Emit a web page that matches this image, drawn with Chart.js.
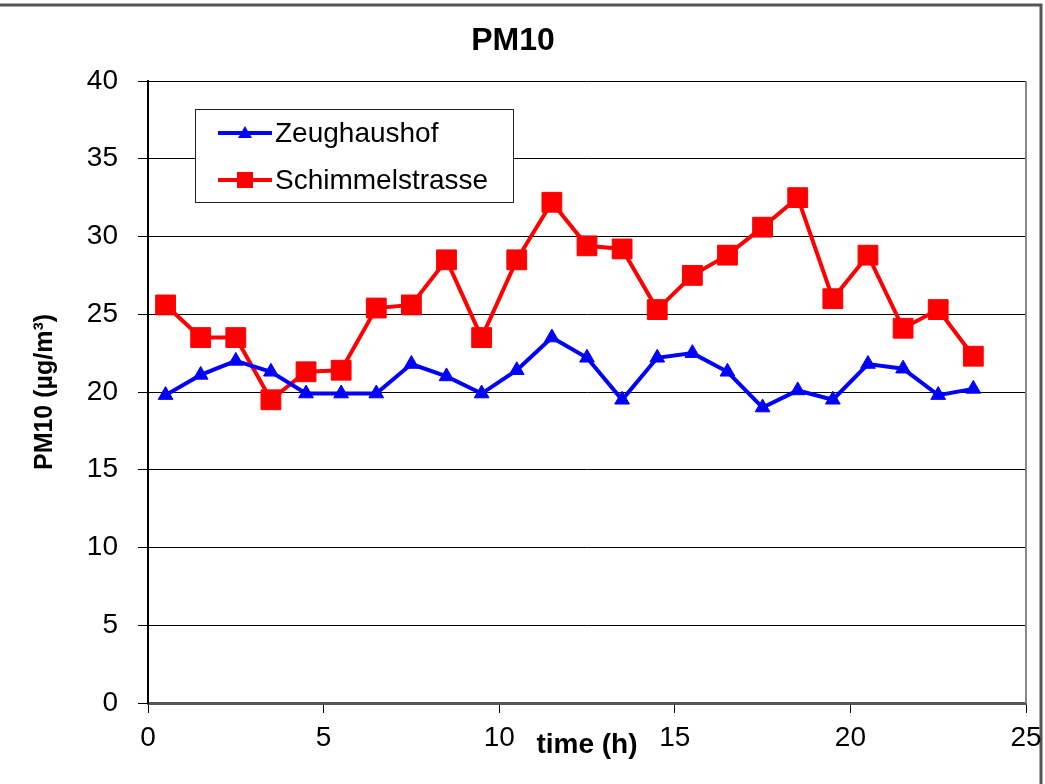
<!DOCTYPE html>
<html>
<head>
<meta charset="utf-8">
<script src="https://cdn.jsdelivr.net/npm/chart.js@4/dist/chart.umd.min.js"></script>
<style>
  body { margin: 0; background: #fff; }
</style>
</head>
<body>
<canvas id="pmChart" width="1045" height="784"></canvas>
<script>
// hour of day (middle of each hourly interval)
var hours = [0.5, 1.5, 2.5, 3.5, 4.5, 5.5, 6.5, 7.5, 8.5, 9.5, 10.5, 11.5,
             12.5, 13.5, 14.5, 15.5, 16.5, 17.5, 18.5, 19.5, 20.5, 21.5, 22.5, 23.5];
var zeughaushof = [19.8, 21.1, 22.0, 21.3, 19.9, 19.9, 19.9, 21.8, 21.0, 19.9, 21.4, 23.5,
                   22.2, 19.5, 22.2, 22.5, 21.3, 19.0, 20.1, 19.5, 21.8, 21.5, 19.8, 20.2];
var schimmelstrasse = [25.6, 23.5, 23.5, 19.5, 21.3, 21.4, 25.4, 25.6, 28.5, 23.5, 28.5, 32.2,
                       29.4, 29.2, 25.3, 27.5, 28.8, 30.6, 32.5, 26.0, 28.8, 24.1, 25.3, 22.3];
var seriesNames = ["Zeughaushof", "Schimmelstrasse"];

var FONT = "'Liberation Sans', Arial, sans-serif";

function toPoints(values) {
  return hours.map(function (h, i) { return { x: h, y: values[i] }; });
}

// frame, right plot border and legend box drawn on the canvas
var framePlugin = {
  id: 'frame',
  beforeDraw: function (chart) {
    var ctx = chart.ctx;
    ctx.save();
    ctx.fillStyle = '#fff';
    ctx.fillRect(0, 0, chart.width, chart.height);
    // outer chart frame (top and right)
    ctx.strokeStyle = '#555';
    ctx.lineWidth = 3;
    ctx.beginPath();
    ctx.moveTo(0, 5);
    ctx.lineTo(1041, 5);
    ctx.lineTo(1041, chart.height);
    ctx.stroke();
    ctx.restore();
  },
  afterDraw: function (chart) {
    var ctx = chart.ctx, a = chart.chartArea;
    ctx.save();
    // right border of the plot area
    ctx.strokeStyle = '#888';
    ctx.lineWidth = 2;
    ctx.beginPath();
    ctx.moveTo(a.right, a.top);
    ctx.lineTo(a.right, a.bottom);
    ctx.stroke();

    // legend
    ctx.fillStyle = '#fff';
    ctx.fillRect(196, 110, 317, 92);
    ctx.strokeStyle = '#222';
    ctx.lineWidth = 1;
    ctx.strokeRect(195.5, 109.5, 318, 93);
    chart.data.datasets.forEach(function (ds, i) {
      var y = 133 + i * 47;
      ctx.strokeStyle = ds.borderColor;
      ctx.lineWidth = 4;
      ctx.beginPath();
      ctx.moveTo(218, y);
      ctx.lineTo(272, y);
      ctx.stroke();
      ctx.fillStyle = ds.borderColor;
      if (ds.pointStyle === 'rect') {
        ctx.fillRect(237, y - 8, 16, 16);
      } else {
        ctx.beginPath();
        ctx.moveTo(245, y - 7);
        ctx.lineTo(252, y + 5);
        ctx.lineTo(238, y + 5);
        ctx.closePath();
        ctx.fill();
      }
      ctx.fillStyle = '#000';
      ctx.font = '28px ' + FONT;
      ctx.textBaseline = 'middle';
      ctx.textAlign = 'left';
      ctx.fillText(ds.label, 275, y + 1);
    });
    ctx.restore();
  }
};

var ctx = document.getElementById('pmChart').getContext('2d');
new Chart(ctx, {
  type: 'line',
  data: {
    datasets: [
      {
        label: seriesNames[0],
        data: toPoints(zeughaushof),
        borderColor: '#0000ff',
        backgroundColor: '#0000ff',
        borderWidth: 4,
        pointStyle: 'triangle',
        pointRadius: 8.5,
        pointBorderWidth: 1,
        tension: 0
      },
      {
        label: seriesNames[1],
        data: toPoints(schimmelstrasse),
        borderColor: '#ff0000',
        backgroundColor: '#ff0000',
        borderWidth: 4,
        pointStyle: 'rect',
        pointRadius: 14,
        pointBorderWidth: 1,
        tension: 0
      }
    ]
  },
  options: {
    responsive: false,
    animation: false,
    layout: { padding: { left: 0, right: 19, top: 0, bottom: 0 } },
    plugins: {
      legend: { display: false },
      tooltip: { enabled: false },
      title: {
        display: true,
        text: 'PM10',
        color: '#000',
        font: { family: FONT, size: 32, weight: 'bold', lineHeight: 1.2 },
        padding: { top: 22, bottom: 20.6 }
      }
    },
    scales: {
      x: {
        type: 'linear',
        min: 0,
        max: 25,
        afterFit: function (scale) {
          scale.height = 81;
          scale.paddingLeft = 0;
          scale.paddingRight = 0;
        },
        ticks: {
          stepSize: 5,
          color: '#000',
          padding: 8,
          font: { family: FONT, size: 28 }
        },
        grid: { drawOnChartArea: false, drawTicks: true, tickLength: 10, color: '#000' },
        border: { color: '#555', width: 3 },
        title: {
          display: true,
          text: 'time (h)',
          color: '#000',
          font: { family: FONT, size: 28, weight: 'bold', lineHeight: 1.2 },
          padding: { top: 0, bottom: 22 }
        }
      },
      y: {
        min: 0,
        max: 40,
        afterFit: function (scale) { scale.width = 148; },
        ticks: {
          stepSize: 5,
          color: '#000',
          padding: 20,
          font: { family: FONT, size: 28 }
        },
        grid: { color: '#000', lineWidth: 1, tickLength: 10 },
        border: { color: '#000', width: 2 },
        title: {
          display: true,
          text: 'PM10 (µg/m³)',
          color: '#000',
          font: { family: FONT, size: 25, weight: 'bold', lineHeight: 1.2 },
          padding: { top: 30, bottom: 0 }
        }
      }
    }
  },
  plugins: [framePlugin]
});
</script>
</body>
</html>
